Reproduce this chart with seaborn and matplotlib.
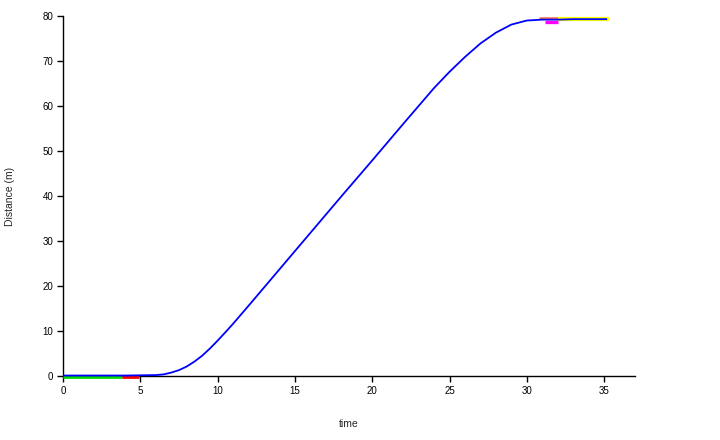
import matplotlib
matplotlib.use("Agg")
import matplotlib.pyplot as plt
import seaborn as sns
import pandas as pd

# Courbe principale (distance parcourue)
time = [0, 1, 2, 3, 4, 5, 6, 6.5, 7, 7.5, 8, 8.5, 9, 9.5, 10, 10.5, 11, 12,
        14, 16, 18, 20, 22, 24, 25, 26, 27, 28, 29, 30, 31, 32, 33, 34, 35.2]
distance = [0.1, 0.1, 0.1, 0.1, 0.1, 0.15, 0.2, 0.35, 0.75, 1.3, 2.1, 3.2,
            4.5, 6.1, 7.85, 9.7, 11.6, 15.6, 23.7, 31.8, 39.9, 47.9, 56.0,
            64.0, 67.6, 70.9, 73.9, 76.3, 78.1, 79.0, 79.2, 79.2, 79.3, 79.3,
            79.3]

# Segments colorés (phases)
green_t = [0, 3.8]
green_d = [-0.2, -0.2]
red_t = [3.8, 4.9]
red_d = [-0.2, -0.2]
orange_t = [30.8, 32.0]
orange_d = [79.5, 79.5]
magenta_t = [31.2, 32.0]
magenta_d = [78.7, 78.7]
yellow_t = [32.0, 35.3]
yellow_d = [79.3, 79.3]

x_ticks = [0, 5, 10, 15, 20, 25, 30, 35]
y_ticks = [0, 10, 20, 30, 40, 50, 60, 70, 80]

sns.set_style("white")
plt.rcParams['font.family'] = ['Liberation Sans', 'DejaVu Sans']

f = plt.figure(figsize=(7.2, 4.4), dpi=100)
ax = f.add_axes([0.0875, 0.1455, 0.7945, 0.8181])

segments = [
    (green_t, green_d, "#00dd00", 2.0),
    (red_t, red_d, "#ff0000", 2.0),
    (orange_t, orange_d, "#f07050", 1.8),
    (magenta_t, magenta_d, "#ff00ff", 2.4),
    (yellow_t, yellow_d, "#ffff00", 3.0),
]
for t, d, c, lw in segments:
    seg = pd.DataFrame({"time": t, "dist": d})
    sns.lineplot(data=seg, x="time", y="dist", color=c, linewidth=lw,
                 ax=ax, clip_on=False, solid_capstyle="butt", zorder=3)

df = pd.DataFrame({"time": time, "dist": distance})
sns.lineplot(data=df, x="time", y="dist", color="#0000ff", linewidth=1.3,
             ax=ax, clip_on=False, solid_capstyle="butt", zorder=4)

ax.set_xlim(0, 37)
ax.set_ylim(0, 80)
ax.set_xticks(x_ticks)
ax.set_yticks(y_ticks)
sns.despine(ax=ax)
for s in ["left", "bottom"]:
    ax.spines[s].set_color("black")
    ax.spines[s].set_linewidth(1)
ax.tick_params(axis="both", direction="out", length=4, width=1,
               labelsize=7, colors="black", left=True, bottom=True, pad=3)
ax.set_xlabel("time", fontsize=7.5, labelpad=17)
ax.set_ylabel("Distance (m)", fontsize=7.5, labelpad=20)

f.savefig("out.png", dpi=100)
